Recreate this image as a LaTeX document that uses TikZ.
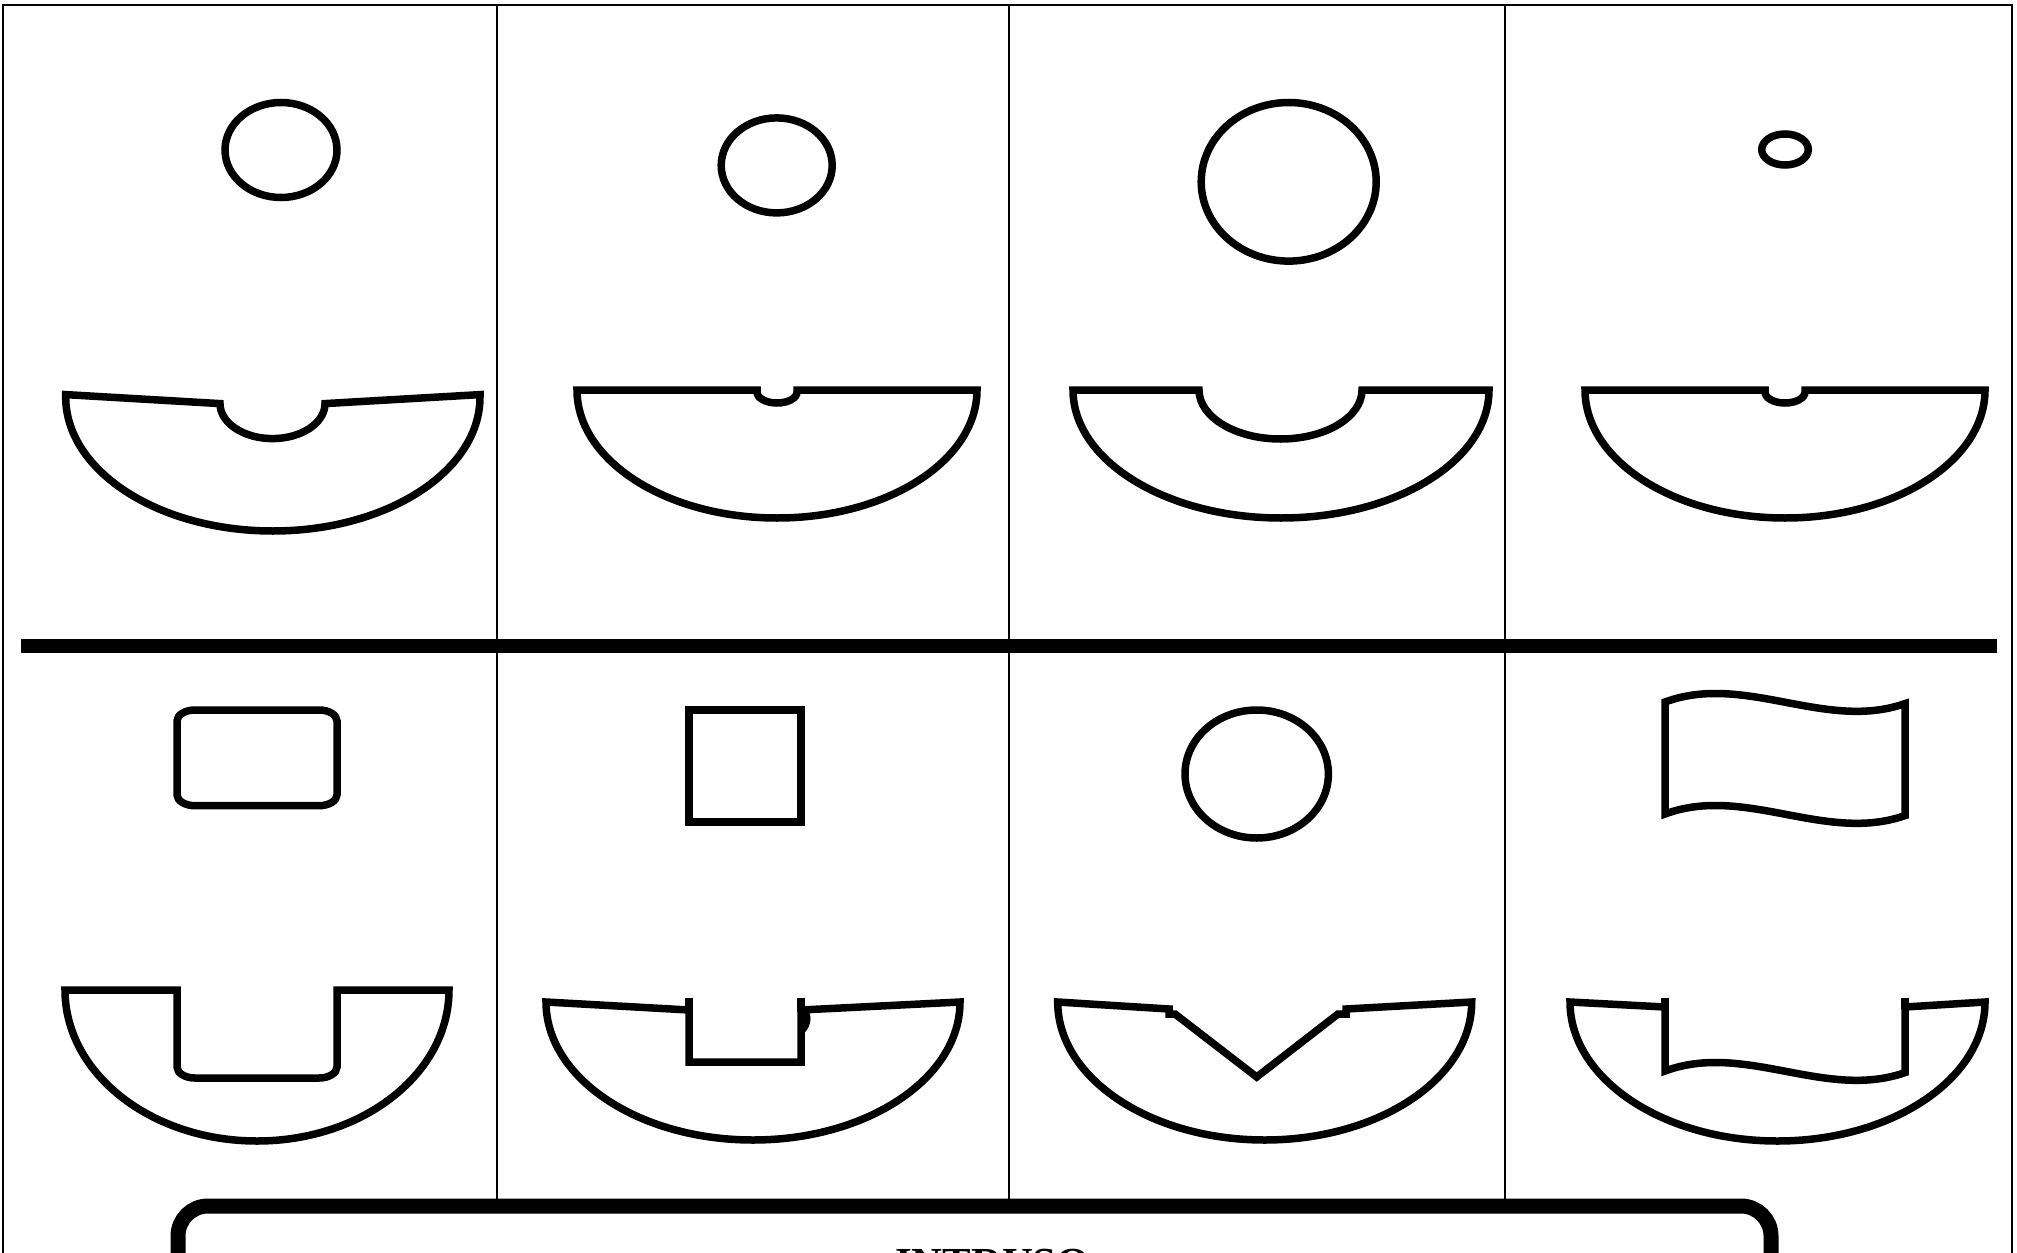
\documentclass[tikz,border=0pt]{standalone}
\usepackage{fontspec}
\setmainfont{Liberation Serif}
\begin{document}
\begin{tikzpicture}[x=1pt,y=1pt,
  shp/.style={draw=black, line width=7.5pt, line join=miter},
  thinline/.style={draw=black, line width=2pt},
  sep/.style={draw=black, line width=14pt},
  boxline/.style={draw=black, line width=15pt, fill=white, rounded corners=30pt}]
\useasboundingbox (0,0) rectangle (2017,-1252);
\clip (0,0) rectangle (2017,-1252);
\fill[white] (0,0) rectangle (2017,-1252);
% frame and dividers
\draw[thinline] (3,-1300) -- (3,-5) -- (2012,-5) -- (2012,-1300);
\coordinate (d1t) at (497,-5);   \coordinate (d1b) at (497,-1205);
\coordinate (d2t) at (1008.5,-5);\coordinate (d2b) at (1008.5,-1205);
\coordinate (d3t) at (1505,-5);  \coordinate (d3b) at (1505,-1205);
\draw[thinline] (d1t) -- (d1b);
\draw[thinline] (d2t) -- (d2b);
\draw[thinline] (d3t) -- (d3b);
\coordinate (hl) at (21,-645.5); \coordinate (hr) at (1997,-645.5);
\draw[sep] (hl) -- (hr);
% ---------- row 1 ----------
\draw[shp] (281,-150) ellipse [x radius=56, y radius=47.5];
\draw[shp] (65.7,-394.6) -- (220,-403.6)
  arc[start angle=180, end angle=360, x radius=52.5, y radius=35]
  -- (480,-394.6) -- (480,-397)
  arc[start angle=0, end angle=-180, x radius=207.15, y radius=134] -- cycle;
\draw[shp] (776.7,-165.4) ellipse [x radius=55.5, y radius=47.5];
\draw[shp] (577,-390) -- (757,-390) -- (757,-392)
  arc[start angle=180, end angle=360, x radius=20, y radius=11]
  -- (797,-390) -- (977,-390)
  arc[start angle=0, end angle=-180, x radius=200, y radius=128] -- cycle;
\draw[shp] (1288.7,-181.8) ellipse [x radius=87.5, y radius=79.3];
\draw[shp] (1073,-390) -- (1199,-390)
  arc[start angle=180, end angle=360, x radius=81.5, y radius=49]
  -- (1489,-390)
  arc[start angle=0, end angle=-180, x radius=208, y radius=128] -- cycle;
\draw[shp] (1785,-149.5) ellipse [x radius=23.3, y radius=15.5];
\draw[shp] (1585,-390) -- (1765,-390) -- (1765,-392)
  arc[start angle=180, end angle=360, x radius=20, y radius=11]
  -- (1805,-390) -- (1985,-390)
  arc[start angle=0, end angle=-180, x radius=200, y radius=128] -- cycle;
% ---------- row 2 ----------
\draw[shp] (177,-721) -- (177,-794.7)
  arc[start angle=180, end angle=270, x radius=18, y radius=11]
  -- (319,-805.7)
  arc[start angle=270, end angle=360, x radius=18, y radius=11]
  -- (337,-721)
  arc[start angle=0, end angle=90, x radius=18, y radius=11]
  -- (195,-710)
  arc[start angle=90, end angle=180, x radius=18, y radius=11] -- cycle;
\draw[shp] (65,-990) -- (177,-990) -- (177,-1067)
  arc[start angle=180, end angle=270, x radius=18, y radius=11]
  -- (319,-1078)
  arc[start angle=270, end angle=360, x radius=18, y radius=11]
  -- (337,-990) -- (449,-990)
  arc[start angle=0, end angle=-180, x radius=192, y radius=151] -- cycle;
\draw[shp] (689,-710) rectangle (801,-822);
\draw[shp] (546,-1002) -- (689,-1010) -- (689,-1062) -- (801,-1062) -- (801,-1010)
  -- (960,-1002)
  arc[start angle=0, end angle=-180, x radius=207, y radius=138] -- cycle;
\draw[shp] (689,-997.5) -- (689,-1012);
\draw[shp] (801,-997.5) -- (801,-1012);
\draw[shp] (801,-1010) .. controls (809,-1012) and (808,-1024) .. (802,-1030);
\draw[shp] (1256.7,-774) ellipse [x radius=71.7, y radius=64];
\draw[shp] (1057.7,-1002) -- (1169,-1009) -- (1169,-1014) -- (1175,-1014)
  -- (1256.7,-1077) -- (1338,-1014) -- (1346,-1014) -- (1346,-1009)
  -- (1471.7,-1002)
  arc[start angle=0, end angle=-180, x radius=207, y radius=138] -- cycle;
\draw[shp] (1665,-702) .. controls (1745,-672.5) and (1825,-731.5) .. (1905,-703.6)
  -- (1905,-815.6) .. controls (1825,-843.5) and (1745,-784.5) .. (1665,-814) -- cycle;
\draw[shp] (1570,-1002) -- (1665,-1007) -- (1665,-1071)
  .. controls (1745,-1041.5) and (1825,-1100.5) .. (1905,-1072.6)
  -- (1905,-1007) -- (1985,-1002)
  arc[start angle=0, end angle=-180, x radius=207.5, y radius=139] -- cycle;
\draw[shp] (1665,-997.5) -- (1665,-1009);
\draw[shp] (1905,-997.5) -- (1905,-1009);
% ---------- bottom box ----------
\draw[boxline] (178,-1206) rectangle (1771,-1420);
\node[anchor=base, inner sep=0pt, font=\fontsize{42.8}{50}\selectfont\bfseries] (lbl) at (992.5,-1277) {INTRUSO};
\end{tikzpicture}
\end{document}
